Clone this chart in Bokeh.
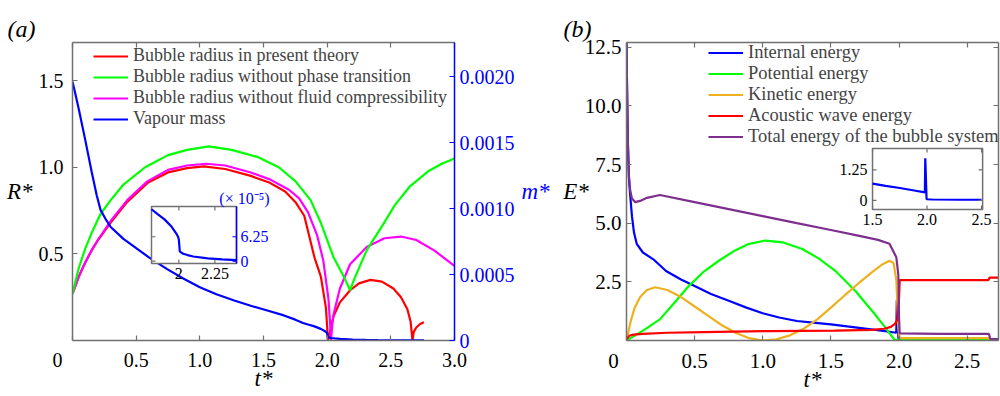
import numpy as np
from bokeh.plotting import figure
from bokeh.layouts import row
from bokeh.models import Range1d, LinearAxis, FixedTicker, Legend, LegendItem, Title
from bokeh.core.properties import value
from bokeh.embed import file_html
from bokeh.resources import INLINE

# ---------------- data : panel (a) ----------------
t_red = [0, 0.02, 0.05, 0.1, 0.15, 0.2, 0.3, 0.43, 0.59, 0.75, 0.9, 1.03, 1.2, 1.4, 1.55, 1.67, 1.75,
         1.82, 1.9, 1.95, 1.99, 2.0, 2.005, 2.015, 2.03, 2.05, 2.1, 2.18, 2.25, 2.34, 2.43, 2.52, 2.58,
         2.63, 2.655, 2.67, 2.68, 2.7, 2.73, 2.76]
R_red = [0.27, 0.31, 0.37, 0.45, 0.52, 0.58, 0.68, 0.80, 0.91, 0.97, 0.995, 1.005, 0.99, 0.95, 0.91, 0.86, 0.80,
         0.72, 0.48, 0.37, 0.19, 0.08, 0.0, 0.02, 0.08, 0.14, 0.22, 0.29, 0.33, 0.35, 0.34, 0.30, 0.25,
         0.18, 0.11, 0.0, 0.05, 0.075, 0.095, 0.105]

t_mag = [0, 0.02, 0.05, 0.1, 0.15, 0.2, 0.3, 0.43, 0.59, 0.75, 0.9, 1.05, 1.2, 1.4, 1.55, 1.7, 1.78, 1.85,
         1.92, 1.97, 2.01, 2.025, 2.03, 2.04, 2.05, 2.1, 2.18, 2.31, 2.45, 2.58, 2.7, 2.84, 2.93, 3.0]
R_mag = [0.27, 0.31, 0.37, 0.45, 0.52, 0.58, 0.69, 0.81, 0.92, 0.985, 1.01, 1.02, 1.01, 0.97, 0.93, 0.87, 0.82, 0.74,
         0.61, 0.46, 0.24, 0.08, 0.0, 0.09, 0.15, 0.30, 0.44, 0.54, 0.59, 0.60, 0.58, 0.52, 0.47, 0.43]

t_grn = [0, 0.02, 0.05, 0.1, 0.15, 0.22, 0.3, 0.4, 0.57, 0.75, 0.9, 1.07, 1.25, 1.45, 1.62, 1.75, 1.87, 1.95,
         2.05, 2.13, 2.18, 2.21, 2.31, 2.44, 2.53, 2.65, 2.8, 2.9, 3.0]
R_grn = [0.27, 0.33, 0.42, 0.53, 0.62, 0.73, 0.81, 0.90, 1.0, 1.07, 1.10, 1.12, 1.10, 1.06, 1.0, 0.92, 0.81, 0.68,
         0.48, 0.37, 0.29, 0.35, 0.52, 0.67, 0.78, 0.89, 0.98, 1.02, 1.05]

t_vap = [0, 0.02, 0.05, 0.1, 0.15, 0.19, 0.22, 0.26, 0.3, 0.4, 0.5, 0.6, 0.74, 0.87, 1.0, 1.13, 1.27, 1.4,
         1.53, 1.66, 1.75, 1.81, 1.85, 1.90, 1.95, 1.98, 1.995, 2.0, 2.006, 2.01, 2.03, 2.06, 2.1, 2.2, 2.3,
         2.4, 2.55, 2.76]
m_vap = [0.00196, 0.00188, 0.00175, 0.00152, 0.00128, 0.00110, 0.00099, 0.00092, 0.00086, 0.00077, 0.00070,
         0.00063, 0.000543, 0.00047, 0.000404, 0.00035, 0.000303, 0.000263, 0.000227, 0.00019, 0.000158,
         0.000133, 0.000121, 0.000107, 0.000088, 0.000072, 0.000062, 0.000055, 0.000026, 0.000024, 0.000019,
         0.0000156, 0.000012, 0.000007, 0.0000045, 0.0000026, 0.0000015, 0.000001]

# ---------------- data : panel (b) ----------------
t_int = [0, 0.005, 0.01, 0.018, 0.027, 0.04, 0.055, 0.075, 0.12, 0.197, 0.29, 0.4, 0.5, 0.62, 0.755, 0.88, 1.0,
         1.12, 1.25, 1.37, 1.5, 1.62, 1.75, 1.87, 1.98, 1.984, 1.996, 2.05, 2.3, 2.5, 2.66, 2.73]
E_int = [12.7, 10.3, 8.4, 6.9, 6.2, 5.3, 4.6, 4.12, 3.75, 3.46, 2.96, 2.6, 2.32, 1.98, 1.68, 1.4, 1.16,
         0.98, 0.83, 0.76, 0.69, 0.6, 0.51, 0.42, 0.33, 1.73, 0.05, 0.04, 0.03, 0.03, 0.03, 0.02]

t_pot = [0, 0.124, 0.245, 0.35, 0.46, 0.57, 0.68, 0.8, 0.9, 1.02, 1.15, 1.29, 1.41, 1.53, 1.68, 1.82, 1.9,
         1.97, 2.0, 2.3, 2.66, 2.67, 2.73]
E_pot = [0.0, 0.43, 0.9, 1.6, 2.34, 2.95, 3.41, 3.85, 4.12, 4.26, 4.18, 3.9, 3.5, 2.98, 2.11, 1.14, 0.55,
         0.0, 0.05, 0.07, 0.07, 0.02, 0.02]

t_kin = [0, 0.03, 0.06, 0.1, 0.15, 0.21, 0.3, 0.4, 0.5, 0.6, 0.7, 0.8, 0.9, 1.0, 1.1, 1.2, 1.3, 1.4, 1.5, 1.6,
         1.7, 1.8, 1.88, 1.93, 1.96, 1.98, 1.995, 2.005, 2.3, 2.66, 2.67, 2.73]
E_kin = [0.0, 0.8, 1.4, 1.85, 2.15, 2.27, 2.15, 1.85, 1.45, 1.05, 0.65, 0.33, 0.1, 0.0, 0.05, 0.22, 0.5, 0.9, 1.4, 1.92,
         2.42, 2.9, 3.25, 3.4, 3.3, 2.6, 0.5, 0.1, 0.1, 0.1, 0.03, 0.03]

t_ac = [0, 0.02, 0.05, 0.12, 0.3, 0.56, 1.05, 1.53, 1.8, 1.89, 1.94, 1.97, 1.99, 2.0, 2.005, 2.3, 2.655, 2.665, 2.73]
E_ac = [0.05, 0.2, 0.25, 0.28, 0.33, 0.36, 0.40, 0.42, 0.45, 0.5, 0.58, 0.71, 0.9, 1.8, 2.57, 2.57, 2.57, 2.68, 2.68]

t_tot = [0, 0.005, 0.01, 0.018, 0.027, 0.04, 0.063, 0.1, 0.15, 0.245, 0.5, 0.75, 1.0, 1.25, 1.5, 1.7, 1.846,
         1.93, 1.98, 1.995, 2.0, 2.005, 2.3, 2.66, 2.67, 2.73]
E_tot = [12.7, 10.5, 8.5, 7.0, 6.4, 6.05, 5.9, 5.95, 6.08, 6.2, 5.9, 5.6, 5.3, 5.0, 4.71, 4.47, 4.29,
         4.12, 3.55, 2.8, 1.0, 0.3, 0.28, 0.28, 0.06, 0.06]

# ---------------- ticks / labels ----------------
NB = "\u00a0"
a_xticks = [0, 0.5, 1.0, 1.5, 2.0, 2.5, 3.0]
a_xlabels = ["0" + NB * 6, "0.5", "1.0", "1.5", "2.0", "2.5", "3.0"]
a_yticks = [0.5, 1.0, 1.5]
a_ylabels = ["0.5", "1.0", "1.5"]
a_mticks = [0, 0.0005, 0.0010, 0.0015, 0.0020]
a_mlabels = ["0", "0.0005", "0.0010", "0.0015", "0.0020"]
b_xticks = [0, 0.5, 1.0, 1.5, 2.0, 2.5]
b_xlabels = ["0" + NB * 5, "0.5", "1.0", "1.5", "2.0", "2.5"]
b_yticks = [2.5, 5.0, 7.5, 10.0, 12.5]
b_ylabels = ["2.5", "5.0", "7.5", "10.0", "12.5"]
ia_xticks = [2.0, 2.25]
ia_xlabels = ["2", "2.25"]
ia_yticks = [0, 6.25e-5]
ia_ylabels = ["0", "6.25"]
ib_xticks = [1.5, 2.0, 2.5]
ib_xlabels = ["1.5", "2.0", "2.5"]
ib_yticks = [0, 1.25]
ib_ylabels = ["0", "1.25"]

FONT = "Liberation Serif"
GRAY = "#707070"
BLUE = "#0000FF"
RED = "#FF0000"
GREEN = "#00FF00"
MAG = "#FF00FF"
ORANGE = "#EDB120"
PURPLE = "#7E2F8E"
LW = 2.2

# frames in page pixels
FA = dict(l=72, r=454, t=42, b=340, x0=0.0, x1=3.0, y0=0.0, y1=1.72)
FB = dict(l=623, r=998, t=42, b=340, x0=0.0, x1=2.73, y0=0.0, y1=12.7)


def dx(F, px):
    return F['x0'] + (px - F['l']) / (F['r'] - F['l']) * (F['x1'] - F['x0'])


def dy(F, py):
    return F['y0'] + (F['b'] - py) / (F['b'] - F['t']) * (F['y1'] - F['y0'])


def make_axis(ticks, labels=None, color=GRAY, lcolor="black", size="20px", standoff=8,
              label=None, label_color="black", label_standoff=0, horizontal=False, **kw):
    ax = LinearAxis(ticker=FixedTicker(ticks=ticks), **kw)
    ax.axis_line_color = color
    ax.axis_line_width = 1.5
    ax.major_tick_line_color = color
    ax.major_tick_line_width = 1.2
    ax.major_tick_in = 5
    ax.major_tick_out = 0
    ax.minor_tick_line_color = None
    if labels is None:
        ax.major_label_text_font_size = "1px"
        ax.major_label_text_color = None
        ax.major_label_standoff = 0
    else:
        ax.major_label_overrides = {k: v for k, v in zip(ticks, labels)}
        ax.major_label_text_font = FONT
        ax.major_label_text_font_size = size
        ax.major_label_text_color = lcolor
        ax.major_label_standoff = standoff
    if label is not None:
        ax.axis_label = label
        ax.axis_label_text_font = FONT
        ax.axis_label_text_font_size = "23px"
        ax.axis_label_text_font_style = "italic"
        ax.axis_label_text_color = label_color
        ax.axis_label_standoff = label_standoff
        if horizontal:
            ax.axis_label_orientation = "horizontal"
    return ax


def add_inset(p, F, box, xr, yr, xticks, xlabels, yticks, ylabels, yside, ycolor, fsize, rline):
    l, r, t, b = box
    sub = p.subplot(x_source=xr, y_source=yr,
                    x_target=Range1d(dx(F, l), dx(F, r)), y_target=Range1d(dy(F, b), dy(F, t)))
    sx = (xr.end - xr.start) / (r - l)
    sy = (yr.end - yr.start) / (b - t)
    sub.quad(left=[xr.start], right=[xr.end], bottom=[yr.start], top=[yr.end],
             fill_color="white", line_color=GRAY, line_width=1.5)
    tx, ty, lc = rline
    tx = np.asarray(tx)
    ty = np.asarray(ty)
    mask = (tx >= xr.start) & (tx <= xr.end)
    sub.line(tx[mask], ty[mask], line_color=lc, line_width=LW)
    L = 4
    xt = np.array(xticks, dtype=float)
    yt = np.array(yticks, dtype=float)
    sub.segment(x0=xt, y0=[yr.start] * len(xt), x1=xt, y1=[yr.start + L * sy] * len(xt),
                line_color=GRAY, line_width=1.2)
    sub.segment(x0=xt, y0=[yr.end] * len(xt), x1=xt, y1=[yr.end - L * sy] * len(xt),
                line_color=GRAY, line_width=1.2)
    sub.segment(x0=[xr.start] * len(yt), y0=yt, x1=[xr.start + L * sx] * len(yt), y1=yt,
                line_color=GRAY, line_width=1.2)
    sub.segment(x0=[xr.end] * len(yt), y0=yt, x1=[xr.end - L * sx] * len(yt), y1=yt,
                line_color=ycolor if yside == "right" else GRAY, line_width=1.2)
    if yside == "right":
        sub.segment(x0=[xr.end], y0=[yr.start], x1=[xr.end], y1=[yr.end], line_color=ycolor, line_width=1.5)
    sub.text(x=xt, y=[yr.start] * len(xt), text=xlabels, y_offset=4, text_align="center",
             text_baseline="top", text_font=value(FONT), text_font_size=value(fsize), text_color="black")
    if yside == "right":
        sub.text(x=[xr.end] * len(yt), y=yt, text=ylabels, x_offset=4, text_align="left",
                 text_baseline="middle", text_font=value(FONT), text_font_size=value(fsize), text_color=ycolor)
    else:
        sub.text(x=[xr.start] * len(yt), y=yt, text=ylabels, x_offset=-5, text_align="right",
                 text_baseline="middle", text_font=value(FONT), text_font_size=value(fsize), text_color=ycolor)
    return sub


def panel_title(p, text, offset):
    p.add_layout(Title(text=text, align="left", offset=offset, text_font=FONT, text_font_size="24px",
                       text_font_style="italic", text_color="black", standoff=2), "above")


# ---------------- panel (a) ----------------
pa = figure(width=560, height=396, x_range=Range1d(FA['x0'], FA['x1']), y_range=Range1d(FA['y0'], FA['y1']),
            output_backend="svg", toolbar_location=None, x_axis_location=None, y_axis_location=None,
            min_border_left=FA['l'], min_border_right=560 - FA['r'], min_border_top=FA['t'],
            min_border_bottom=396 - FA['b'])
pa.grid.visible = False
pa.outline_line_color = None
pa.background_fill_color = "white"
pa.border_fill_color = "white"
pa.extra_y_ranges = {"m": Range1d(0, 0.002258)}

pa.add_layout(make_axis(a_xticks, a_xlabels, standoff=8, label="t*", label_standoff=-8), "below")
pa.add_layout(make_axis(a_xticks), "above")
pa.add_layout(make_axis(a_yticks, a_ylabels, standoff=9, label="R*", label_standoff=3, horizontal=True), "left")
pa.add_layout(make_axis(a_mticks, a_mlabels, color=BLUE, lcolor=BLUE, standoff=5, y_range_name="m",
                        label="m*", label_color=BLUE, label_standoff=4, horizontal=True), "right")
panel_title(pa, "(a)", -65)

r_red = pa.line(t_red, R_red, line_color=RED, line_width=LW)
r_mag = pa.line(t_mag, R_mag, line_color=MAG, line_width=LW)
r_grn = pa.line(t_grn, R_grn, line_color=GREEN, line_width=LW)
r_vap = pa.line(t_vap, m_vap, line_color=BLUE, line_width=LW, y_range_name="m")

leg_a = Legend(items=[LegendItem(label="Bubble radius in present theory", renderers=[r_red]),
                      LegendItem(label="Bubble radius without phase transition", renderers=[r_grn]),
                      LegendItem(label="Bubble radius without fluid compressibility", renderers=[r_mag]),
                      LegendItem(label="Vapour mass", renderers=[r_vap])],
               location=(21, 211), padding=0, spacing=0, margin=0, label_height=20, glyph_height=20,
               glyph_width=35, label_standoff=5, label_text_font=FONT, label_text_font_size="18px",
               background_fill_alpha=0, border_line_color=None)
pa.add_layout(leg_a)

sa = add_inset(pa, FA, (151, 236, 206, 263), Range1d(1.81, 2.40), Range1d(-0.6e-5, 14.0e-5),
               ia_xticks, ia_xlabels, ia_yticks, ia_ylabels, "right", BLUE, "16px", (t_vap, m_vap, BLUE))
sa.text(x=[2.40], y=[14.0e-5], text=["(× 10⁻⁵)"], x_offset=8, y_offset=-8, text_align="center",
        text_baseline="middle", text_font=value(FONT), text_font_size=value("16px"), text_color=BLUE)

# ---------------- panel (b) ----------------
pb = figure(width=440, height=396, x_range=Range1d(FB['x0'], FB['x1']), y_range=Range1d(FB['y0'], FB['y1']),
            output_backend="svg", toolbar_location=None, x_axis_location=None, y_axis_location=None,
            min_border_left=FB['l'] - 560, min_border_right=1000 - FB['r'], min_border_top=FB['t'],
            min_border_bottom=396 - FB['b'])
pb.grid.visible = False
pb.outline_line_color = None
pb.background_fill_color = "white"
pb.border_fill_color = "white"

pb.add_layout(make_axis(b_xticks, b_xlabels, size="21px", standoff=8, label="t*", label_standoff=-9), "below")
pb.add_layout(make_axis(b_xticks), "above")
pb.add_layout(make_axis(b_yticks, b_ylabels, size="21px", standoff=5, label="E*", label_standoff=-7,
                        horizontal=True), "left")
pb.add_layout(make_axis(b_yticks), "right")
panel_title(pb, "(b)", -63)

r_int = pb.line(t_int, E_int, line_color=BLUE, line_width=LW)
r_pot = pb.line(t_pot, E_pot, line_color=GREEN, line_width=LW)
r_kin = pb.line(t_kin, E_kin, line_color=ORANGE, line_width=LW)
r_ac = pb.line(t_ac, E_ac, line_color=RED, line_width=LW)
r_tot = pb.line(t_tot, E_tot, line_color=PURPLE, line_width=LW)

leg_b = Legend(items=[LegendItem(label="Internal energy", renderers=[r_int]),
                      LegendItem(label="Potential energy", renderers=[r_pot]),
                      LegendItem(label="Kinetic energy", renderers=[r_kin]),
                      LegendItem(label="Acoustic wave energy", renderers=[r_ac]),
                      LegendItem(label="Total energy of the bubble system", renderers=[r_tot])],
               location=(82, 193), padding=0, spacing=0, margin=0, label_height=21, glyph_height=21,
               glyph_width=35, label_standoff=5, label_text_font=FONT, label_text_font_size="18.5px",
               background_fill_alpha=0, border_line_color=None)
pb.add_layout(leg_b)

add_inset(pb, FB, (871, 982, 148, 209), Range1d(1.5, 2.51), Range1d(-0.37, 2.13),
          ib_xticks, ib_xlabels, ib_yticks, ib_ylabels, "left", "black", "16px", (t_int, E_int, BLUE))

layout = row(pa, pb)
open("out.html", "w").write(file_html(layout, INLINE))
